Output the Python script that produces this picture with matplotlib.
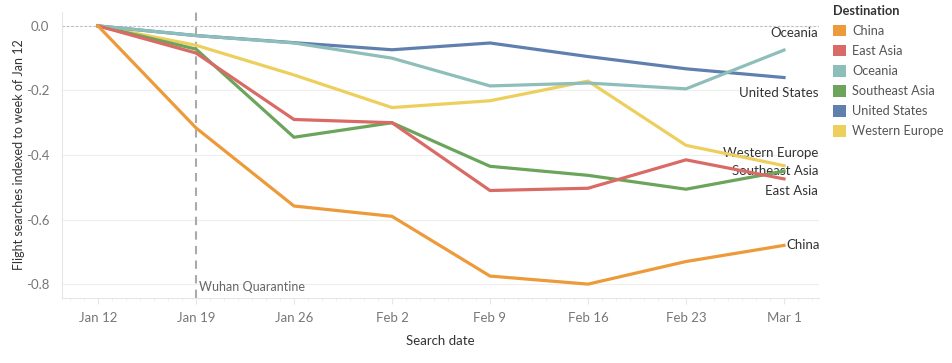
import numpy as np
import matplotlib
matplotlib.use('Agg')
import matplotlib.pyplot as plt
import matplotlib.dates as mdates
from matplotlib.patches import Patch

plt.rcParams['font.family'] = ['Lato', 'DejaVu Sans']

search_dates = np.array(['2020-01-12', '2020-01-19', '2020-01-26', '2020-02-02',
                         '2020-02-09', '2020-02-16', '2020-02-23', '2020-03-01'],
                        dtype='datetime64[D]')
tick_labels = ['Jan 12', 'Jan 19', 'Jan 26', 'Feb 2', 'Feb 9', 'Feb 16', 'Feb 23', 'Mar 1']

china = [0.0, -0.316, -0.558, -0.590, -0.775, -0.800, -0.730, -0.680]
east_asia = [0.0, -0.084, -0.290, -0.300, -0.510, -0.503, -0.415, -0.474]
oceania = [0.0, -0.030, -0.053, -0.100, -0.186, -0.177, -0.195, -0.075]
southeast_asia = [0.0, -0.072, -0.345, -0.300, -0.435, -0.463, -0.506, -0.450]
united_states = [0.0, -0.030, -0.052, -0.074, -0.053, -0.095, -0.133, -0.160]
western_europe = [0.0, -0.060, -0.152, -0.253, -0.232, -0.171, -0.370, -0.433]

destinations = ['China', 'East Asia', 'Oceania', 'Southeast Asia', 'United States', 'Western Europe']
series = [china, east_asia, oceania, southeast_asia, united_states, western_europe]
colors = ['#EC9A3A', '#DA6A66', '#8DBEBA', '#6AA55B', '#5F80AE', '#EDCF5E']

quarantine_date = np.datetime64('2020-01-19')

fig = plt.figure(figsize=(9.53, 3.63), dpi=100)
ax = fig.add_axes([62 / 953, 1 - 298 / 363, (819 - 62) / 953, (298 - 12) / 363])

x = mdates.date2num(search_dates)

# first series drawn last, so china sits on top
n = len(series)
for i, (name, vals, c) in enumerate(zip(destinations, series, colors)):
    ax.plot(x, vals, color=c, lw=2.3, solid_joinstyle='miter', zorder=3 + n - i)

ax.axhline(0, color='#bbbbbb', lw=0.8, ls=(0, (2, 2)), zorder=1)
qx = mdates.date2num(quarantine_date)
ax.axvline(qx, color='#aaaaaa', lw=1.5, ls=(0, (4, 3)), zorder=2)
ax.text(qx + 0.2, -0.81, 'Wuhan Quarantine', color='#666666', fontsize=9, va='center')

fs = 9.5
end = x[-1]
ax.text(end + 2.45, oceania[-1] + 0.035, 'Oceania', ha='right', va='bottom', fontsize=fs, color='#333333')
ax.text(end + 2.45, united_states[-1] - 0.03, 'United States', ha='right', va='top', fontsize=fs, color='#333333')
ax.text(end + 2.45, -0.395, 'Western Europe', ha='right', va='center', fontsize=fs, color='#333333')
ax.text(end + 2.45, -0.45, 'Southeast Asia', ha='right', va='center', fontsize=fs, color='#333333')
ax.text(end + 2.45, -0.51, 'East Asia', ha='right', va='center', fontsize=fs, color='#333333')
ax.text(end + 0.2, china[-1], 'China', ha='left', va='center', fontsize=fs, color='#333333')

ax.set_xlim(x[0] - 2.57, x[0] + 51.5)
ax.set_ylim(-0.843, 0.043)
ax.set_xticks(x)
ax.set_xticklabels(tick_labels)
ax.xaxis.set_minor_locator(mdates.DayLocator())
ax.set_yticks([0.0, -0.2, -0.4, -0.6, -0.8])
ax.set_yticklabels(['0.0', '-0.2', '-0.4', '-0.6', '-0.8'])
ax.tick_params(axis='x', colors='#e6e6e6', labelcolor='#777777', labelsize=fs, length=4, pad=6)
ax.tick_params(axis='x', which='minor', colors='#eeeeee', length=2)
ax.tick_params(axis='y', length=0, labelcolor='#777777', labelsize=fs, pad=9)
ax.grid(axis='y', color='#efefef', lw=0.8)
ax.set_axisbelow(True)
for s in ['top', 'right']:
    ax.spines[s].set_visible(False)
for s in ['left', 'bottom']:
    ax.spines[s].set_color('#e6e6e6')

ax.set_xlabel('Search date', fontsize=fs, color='#333333', labelpad=8)
ax.set_ylabel('Flight searches indexed to week of Jan 12', fontsize=9, color='#333333', labelpad=1)

handles = [Patch(facecolor=c, edgecolor='none') for c in colors]
leg = fig.legend(handles, destinations, title='Destination', loc='upper left',
                 bbox_to_anchor=(828 / 953, 1.0), frameon=False, fontsize=9.2,
                 title_fontsize=9.2, handlelength=1.0, handleheight=1.0,
                 handletextpad=0.5, labelspacing=0.62, borderaxespad=0.0)
leg.get_title().set_fontweight('bold')
leg.get_title().set_color('#333333')
leg._legend_box.align = 'left'
for t in leg.get_texts():
    t.set_color('#555555')

fig.savefig('out.png', dpi=100)
